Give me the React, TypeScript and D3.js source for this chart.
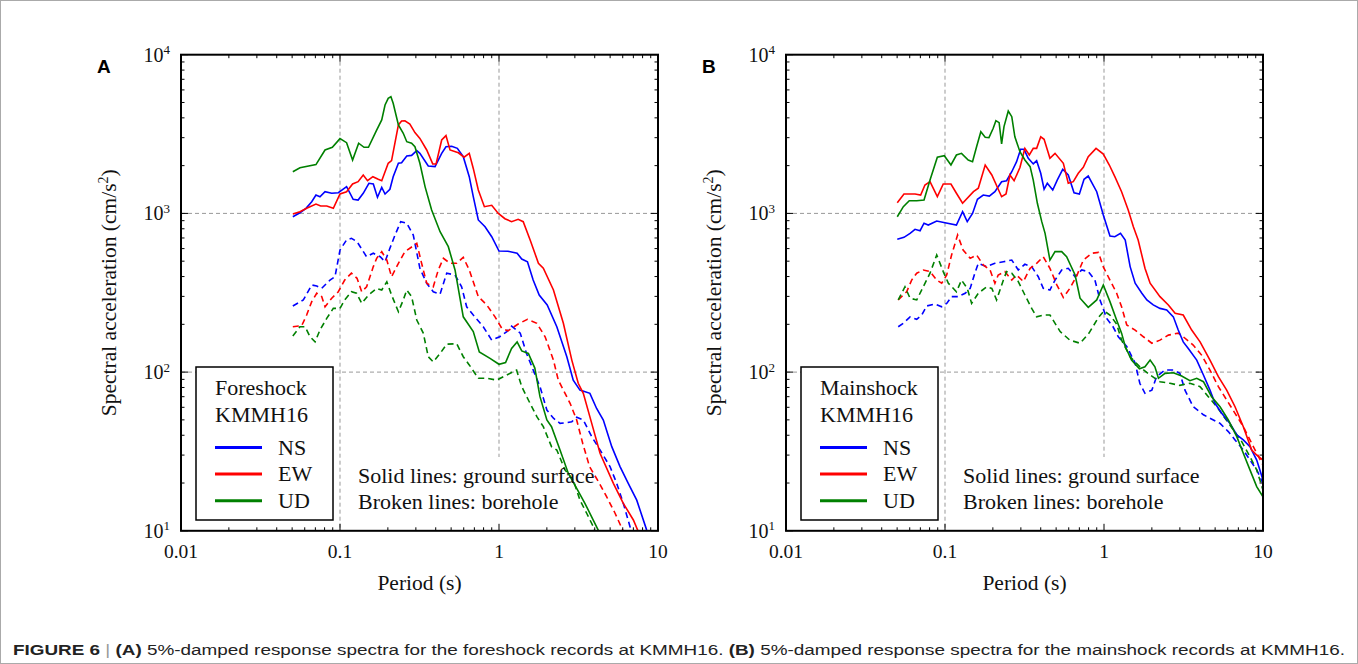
import React from "react";
import * as d3 from "d3";

// ---------- DATA (period s, spectral acceleration cm/s^2) ----------
const xTickLabels = ["0.01", "0.1", "1", "10"];
const xTickValues = [0.01, 0.1, 1, 10];
const yTickExponents = [1, 2, 3, 4];
const componentNames = ["NS", "EW", "UD"];
const componentColors = ["#0000ff", "#ff0000", "#008000"];

const foreshockNS_surface: [number, number][] = [[0.0505,953],[0.056,1010],[0.0611,1077],[0.0664,1185],[0.0706,1306],[0.0748,1274],[0.0805,1370],[0.0887,1339],[0.0976,1350],[0.11,1473],[0.121,1227],[0.13,1214],[0.14,1339],[0.152,1548],[0.162,1532],[0.172,1263],[0.183,1460],[0.192,1325],[0.206,1419],[0.216,1703],[0.233,2070],[0.244,2087],[0.263,2300],[0.282,2320],[0.304,2484],[0.318,2390],[0.359,1990],[0.396,1970],[0.436,2390],[0.464,2630],[0.504,2650],[0.547,2570],[0.596,2277],[0.65,1703],[0.689,1274],[0.741,909],[0.817,824],[0.9,713],[1.0,579],[1.14,577],[1.3,561],[1.39,516],[1.51,496],[1.64,380],[1.79,306],[2.01,265],[2.31,193],[2.67,125],[2.93,89],[3.23,77],[3.73,73.5],[4.11,59],[4.53,49.9],[5.12,33.9],[5.77,25.4],[6.5,19.9],[7.35,15.6],[8.49,10.1],[9.1,8.7]];
const foreshockEW_surface: [number, number][] = [[0.0505,991],[0.056,1025],[0.0617,1077],[0.0706,1146],[0.0756,1113],[0.0825,1113],[0.0908,1077],[0.1,1325],[0.11,1370],[0.12,1532],[0.13,1584],[0.14,1746],[0.149,1607],[0.161,1703],[0.174,1640],[0.183,1607],[0.201,2070],[0.211,2150],[0.233,3610],[0.244,3820],[0.256,3830],[0.275,3660],[0.296,3230],[0.318,2970],[0.351,2510],[0.383,2050],[0.402,2050],[0.436,2900],[0.464,3090],[0.492,2510],[0.555,2410],[0.603,2260],[0.65,2390],[0.689,1920],[0.741,1404],[0.809,1102],[0.9,1125],[0.99,1000],[1.09,926],[1.2,887],[1.32,918],[1.42,887],[1.57,680],[1.77,485],[1.9,451],[2.2,329],[2.54,203],[2.87,119],[3.15,85],[3.39,73.5],[3.83,47.5],[4.32,30.8],[5.24,19.9],[6.05,14.9],[7.0,11.7],[7.52,9.87],[7.8,9.0]];
const foreshockUD_surface: [number, number][] = [[0.0505,1830],[0.056,1940],[0.0706,2030],[0.0805,2510],[0.0895,2610],[0.1,2960],[0.11,2790],[0.12,2170],[0.131,2770],[0.1416,2610],[0.151,2610],[0.17,3350],[0.183,3880],[0.192,4820],[0.201,5310],[0.209,5440],[0.216,4940],[0.233,3610],[0.25,3200],[0.263,2830],[0.282,2770],[0.296,2630],[0.318,2070],[0.343,1470],[0.377,1050],[0.426,767],[0.48,617],[0.529,440],[0.596,223],[0.689,180],[0.752,134],[0.878,122],[1.0,112],[1.1,115],[1.2,141],[1.3,155],[1.39,136],[1.53,131],[1.68,106],[1.81,70],[2.0,49.9],[2.14,45.3],[2.42,32.3],[2.73,23.0],[3.08,18.5],[3.47,14.9],[4.11,10.6],[4.4,9.2]];
const foreshockNS_borehole: [number, number][] = [[0.0505,261],[0.0588,285],[0.0664,354],[0.0714,349],[0.0767,337],[0.0865,380],[0.093,399],[0.1,588],[0.11,680],[0.118,697],[0.128,663],[0.147,533],[0.162,561],[0.179,533],[0.192,496],[0.206,603],[0.222,731],[0.241,887],[0.263,867],[0.289,731],[0.318,451],[0.351,363],[0.386,321],[0.426,310],[0.469,420],[0.529,409],[0.582,345],[0.626,258],[0.689,229],[0.796,193],[0.9,159],[1.01,167],[1.12,180],[1.2,195],[1.36,176],[1.49,131],[1.61,108],[1.81,81],[2.0,57.7],[2.2,51.2],[2.42,47.5],[2.67,48],[2.87,48.7],[3.08,51.9],[3.39,49.9],[3.83,39.2],[4.32,32.3],[4.99,25.4],[5.5,19.9],[6.05,14.9],[6.67,10.6],[6.85,9.4]];
const foreshockEW_borehole: [number, number][] = [[0.0505,193],[0.0574,196],[0.0617,229],[0.0664,278],[0.0714,314],[0.0767,299],[0.0805,258],[0.0887,292],[0.0976,321],[0.107,380],[0.118,420],[0.128,390],[0.137,321],[0.147,345],[0.162,462],[0.17,521],[0.183,574],[0.197,508],[0.211,399],[0.233,485],[0.256,574],[0.275,603],[0.304,648],[0.326,485],[0.351,363],[0.386,345],[0.415,440],[0.447,521],[0.492,485],[0.542,485],[0.596,529],[0.65,440],[0.741,299],[0.837,265],[0.944,223],[1.04,189],[1.14,182],[1.32,201],[1.51,215],[1.73,203],[1.95,167],[2.2,119],[2.36,89],[2.54,77],[2.8,63.6],[3.08,49.9],[3.36,35.6],[3.71,25.4],[4.22,20.4],[4.75,16.4],[5.37,12.9],[6.0,10.1],[6.2,9.3]];
const foreshockUD_borehole: [number, number][] = [[0.0505,169],[0.056,193],[0.0603,193],[0.0648,167],[0.0697,155],[0.0748,184],[0.0825,218],[0.0908,252],[0.1,252],[0.107,285],[0.118,321],[0.127,314],[0.137,271],[0.151,306],[0.17,337],[0.183,329],[0.197,371],[0.211,306],[0.233,240],[0.25,285],[0.263,329],[0.282,299],[0.304,213],[0.334,176],[0.359,125],[0.386,116],[0.426,131],[0.469,150],[0.542,151],[0.596,125],[0.65,111],[0.741,91.4],[0.837,91.4],[0.968,89],[1.12,95.9],[1.29,103],[1.39,81],[1.53,66.7],[1.73,52.4],[1.9,45.3],[2.14,33.9],[2.31,32.3],[2.6,24.2],[2.93,20.9],[3.23,15.6],[3.56,12.9],[3.92,10.6],[4.1,9.3]];

const mainshockNS_surface: [number, number][] = [[0.0501,687],[0.0552,707],[0.0603,749],[0.0648,794],[0.0697,778],[0.0738,867],[0.0785,845],[0.0887,896],[0.1,874],[0.118,845],[0.129,1025],[0.138,887],[0.149,1000],[0.16,1227],[0.174,1306],[0.19,1286],[0.206,1370],[0.227,1584],[0.244,1607],[0.263,1830],[0.282,2118],[0.299,2535],[0.314,2535],[0.334,2223],[0.359,2050],[0.377,2150],[0.4,1790],[0.42,1419],[0.44,1548],[0.476,1404],[0.508,1622],[0.55,1897],[0.596,1746],[0.648,1350],[0.7,1325],[0.749,1640],[0.796,1720],[0.9,1370],[0.99,977],[1.09,721],[1.17,713],[1.27,749],[1.36,680],[1.46,462],[1.57,363],[1.73,314],[1.86,285],[2.04,265],[2.25,252],[2.48,246],[2.73,223],[2.93,184],[3.15,155],[3.39,141],[3.83,119],[4.22,95.9],[4.64,77],[4.99,63.6],[5.5,55],[6.2,47.5],[6.84,40.2],[7.52,37.4],[8.28,33.9],[9.13,27.9],[10,20.9]];
const mainshockEW_surface: [number, number][] = [[0.0501,1168],[0.0552,1325],[0.0648,1325],[0.0703,1306],[0.0748,1510],[0.0805,1584],[0.0895,1274],[0.0975,1532],[0.109,1532],[0.118,1339],[0.129,1158],[0.151,1370],[0.162,1440],[0.179,2018],[0.197,1746],[0.227,1274],[0.242,1325],[0.256,1746],[0.272,1607],[0.296,1946],[0.318,2570],[0.339,2333],[0.359,2570],[0.377,2570],[0.4,3040],[0.42,2930],[0.457,2223],[0.492,2390],[0.555,2070],[0.596,1548],[0.641,1584],[0.689,1790],[0.741,1952],[0.796,2277],[0.891,2570],[0.99,2367],[1.08,2018],[1.17,1703],[1.29,1370],[1.42,1050],[1.53,824],[1.64,680],[1.81,451],[1.95,363],[2.25,299],[2.54,265],[2.8,235],[3.15,229],[3.56,184],[4.02,155],[4.64,119],[5.24,93.5],[5.91,77],[6.67,60.5],[7.52,45.3],[8.49,32.3],[9.13,30.0],[10,27.9]];
const mainshockUD_surface: [number, number][] = [[0.0501,953],[0.0547,1102],[0.0596,1202],[0.0664,1202],[0.0738,1214],[0.0805,1622],[0.0895,2260],[0.099,2310],[0.109,2018],[0.118,2333],[0.127,2390],[0.14,2170],[0.149,2118],[0.158,2630],[0.168,3270],[0.179,3020],[0.189,3000],[0.201,3440],[0.209,3840],[0.219,3730],[0.227,2740],[0.235,3520],[0.25,4420],[0.263,4070],[0.275,3040],[0.296,2450],[0.318,2170],[0.343,1970],[0.359,1622],[0.381,1158],[0.406,887],[0.426,749],[0.457,508],[0.492,574],[0.542,574],[0.582,533],[0.658,409],[0.707,292],[0.796,256],[0.9,285],[0.99,354],[1.09,278],[1.2,213],[1.29,176],[1.36,145],[1.49,119],[1.67,105],[1.81,108],[1.95,119],[2.09,108],[2.2,91.4],[2.42,98.2],[2.73,99],[3.08,94.4],[3.47,88.3],[3.83,91.4],[4.22,87],[4.75,70],[5.37,60.5],[6.05,49.9],[6.84,39.2],[7.52,30.8],[8.28,24.2],[9.13,19.0],[10,16.4]];
const mainshockNS_borehole: [number, number][] = [[0.0508,193],[0.0547,203],[0.0603,223],[0.0664,215],[0.0714,229],[0.0767,261],[0.0865,269],[0.0953,258],[0.1025,271],[0.11,299],[0.121,299],[0.134,314],[0.144,337],[0.154,420],[0.162,485],[0.183,462],[0.206,485],[0.233,496],[0.263,508],[0.289,440],[0.318,478],[0.351,462],[0.386,399],[0.415,337],[0.457,329],[0.492,380],[0.542,440],[0.596,451],[0.658,399],[0.724,440],[0.796,430],[0.877,380],[0.944,285],[1.04,218],[1.14,193],[1.23,167],[1.39,145],[1.57,114],[1.68,85],[1.81,73.5],[2.0,77],[2.14,93.5],[2.42,103],[2.73,103],[3.0,98.2],[3.23,77],[3.64,60.5],[4.22,53.8],[4.64,51.2],[5.37,47.5],[6.05,42.2],[6.67,37.4],[7.52,32.3],[8.28,27.9],[9.13,24.2],[10,19.9]];
const mainshockEW_borehole: [number, number][] = [[0.0508,285],[0.0574,321],[0.0617,380],[0.0664,420],[0.073,440],[0.0805,430],[0.0887,380],[0.0953,363],[0.1025,409],[0.11,547],[0.12,731],[0.13,588],[0.144,521],[0.158,547],[0.174,474],[0.192,440],[0.206,363],[0.216,409],[0.238,430],[0.263,380],[0.282,409],[0.311,372],[0.343,451],[0.377,485],[0.415,533],[0.457,451],[0.504,356],[0.555,295],[0.61,337],[0.673,403],[0.741,508],[0.837,561],[0.922,568],[0.99,460],[1.09,380],[1.2,315],[1.29,258],[1.39,198],[1.57,184],[1.77,167],[2.0,152],[2.25,159],[2.54,171],[2.93,176],[3.15,167],[3.64,148],[4.11,128],[4.64,103],[5.24,81],[5.91,66.7],[6.67,55],[7.52,45.3],[8.28,37.4],[9.13,30.8],[10,26]];
const mainshockUD_borehole: [number, number][] = [[0.0508,285],[0.056,345],[0.0603,292],[0.0664,285],[0.073,345],[0.0805,420],[0.0887,547],[0.0975,430],[0.105,363],[0.118,321],[0.127,380],[0.138,337],[0.147,271],[0.162,314],[0.183,345],[0.197,337],[0.211,285],[0.233,380],[0.244,430],[0.263,420],[0.289,372],[0.318,306],[0.351,252],[0.377,223],[0.415,229],[0.457,229],[0.53,180],[0.61,159],[0.707,152],[0.805,176],[0.922,221],[1.0,243],[1.09,229],[1.2,201],[1.29,159],[1.46,125],[1.68,108],[1.95,95.9],[2.25,87],[2.6,85],[3.0,82.5],[3.47,85],[4.02,81],[4.53,70],[5.12,60.5],[5.77,51.2],[6.5,43.3],[7.35,36.5],[8.28,29.3],[9.13,24.2],[10,18.1]];

const panelLetters = ["A", "B"];
const panelTitles = ["Foreshock", "Mainshock"];
const stationName = "KMMH16";
const noteLines = ["Solid lines: ground surface", "Broken lines: borehole"];
const xAxisTitle = "Period (s)";

// ---------- LAYOUT ----------
const W = 1358, H = 664;
const TOP = 54.7, BOTTOM = 530.8;
const PANEL_LEFT = [181, 786];
const PANEL_WIDTH = 477;
const SERIF = "'Liberation Serif', 'Times New Roman', serif";
const SANS = "'Liberation Sans', Arial, sans-serif";

type Series = [number, number][];

function Panel({ idx, surface, borehole }: { idx: number; surface: Series[]; borehole: Series[] }) {
  const left = PANEL_LEFT[idx];
  const right = left + PANEL_WIDTH;
  const x = d3.scaleLog().domain([0.01, 10]).range([left, right]);
  const y = d3.scaleLog().domain([10, 10000]).range([BOTTOM, TOP]);
  const line = d3.line<[number, number]>().x(d => x(d[0])).y(d => y(d[1]));
  const clipId = `clip-${idx}`;

  const minorX: number[] = [];
  for (let e = -2; e < 1; e++) for (let k = 2; k <= 9; k++) minorX.push(k * Math.pow(10, e));
  const minorY: number[] = [];
  for (let e = 1; e < 4; e++) for (let k = 2; k <= 9; k++) minorY.push(k * Math.pow(10, e));

  const legX = left + 15, legY = 367, legW = 137, legH = 153;

  return (
    <g>
      <defs>
        <clipPath id={clipId}>
          <rect x={left} y={TOP} width={right - left} height={BOTTOM - TOP} />
        </clipPath>
      </defs>
      {/* grid */}
      {[0.1, 1].map(v => (
        <line key={"gx" + v} x1={x(v)} x2={x(v)} y1={TOP} y2={BOTTOM} stroke="#999" strokeWidth={1} strokeDasharray="4,3" />
      ))}
      {[100, 1000].map(v => (
        <line key={"gy" + v} x1={left} x2={right} y1={y(v)} y2={y(v)} stroke="#999" strokeWidth={1} strokeDasharray="4,3" />
      ))}
      {/* annotation background */}
      <rect x={left + 171} y={457} width={250} height={BOTTOM - 457 - 1} fill="#fff" />
      {/* curves */}
      <g clipPath={`url(#${clipId})`}>
        {borehole.map((s, i) => (
          <path key={"b" + i} d={line(s) || ""} fill="none" stroke={componentColors[i]} strokeWidth={1.6} strokeDasharray="6,4" />
        ))}
        {surface.map((s, i) => (
          <path key={"s" + i} d={line(s) || ""} fill="none" stroke={componentColors[i]} strokeWidth={1.6} />
        ))}
      </g>
      {/* note */}
      {noteLines.map((t, i) => (
        <text key={"n" + i} x={left + 177} y={483 + i * 26} fontFamily={SERIF} fontSize={22} fill="#111">{t}</text>
      ))}
      {/* legend */}
      <rect x={legX} y={legY} width={legW} height={legH} fill="#fff" stroke="#000" strokeWidth={1.5} />
      <text x={legX + 19} y={395} fontFamily={SERIF} fontSize={22} fill="#111">{panelTitles[idx]}</text>
      <text x={legX + 19} y={421.5} fontFamily={SERIF} fontSize={22} fill="#111">{stationName}</text>
      {componentNames.map((n, i) => (
        <g key={n}>
          <line x1={legX + 19} x2={legX + 66} y1={447.5 + i * 26.6} y2={447.5 + i * 26.6} stroke={componentColors[i]} strokeWidth={3} />
          <text x={legX + 82} y={454.5 + i * 26.6} fontFamily={SERIF} fontSize={22} fill="#111">{n}</text>
        </g>
      ))}
      {/* ticks */}
      {minorX.map(v => (
        <g key={"mx" + v}>
          <line x1={x(v)} x2={x(v)} y1={BOTTOM} y2={BOTTOM - 3.5} stroke="#000" strokeWidth={1} />
          <line x1={x(v)} x2={x(v)} y1={TOP} y2={TOP + 3.5} stroke="#000" strokeWidth={1} />
        </g>
      ))}
      {xTickValues.map(v => (
        <g key={"Mx" + v}>
          <line x1={x(v)} x2={x(v)} y1={BOTTOM} y2={BOTTOM - 7} stroke="#000" strokeWidth={1} />
          <line x1={x(v)} x2={x(v)} y1={TOP} y2={TOP + 7} stroke="#000" strokeWidth={1} />
        </g>
      ))}
      {minorY.map(v => (
        <g key={"my" + v}>
          <line x1={left} x2={left + 3.5} y1={y(v)} y2={y(v)} stroke="#000" strokeWidth={1} />
          <line x1={right} x2={right - 3.5} y1={y(v)} y2={y(v)} stroke="#000" strokeWidth={1} />
        </g>
      ))}
      {yTickExponents.map(e => (
        <g key={"My" + e}>
          <line x1={left} x2={left + 7} y1={y(Math.pow(10, e))} y2={y(Math.pow(10, e))} stroke="#000" strokeWidth={1} />
          <line x1={right} x2={right - 7} y1={y(Math.pow(10, e))} y2={y(Math.pow(10, e))} stroke="#000" strokeWidth={1} />
        </g>
      ))}
      {/* frame */}
      <rect x={left} y={TOP} width={right - left} height={BOTTOM - TOP} fill="none" stroke="#000" strokeWidth={2} />
      {/* tick labels */}
      {xTickValues.map((v, i) => (
        <text key={"xl" + v} x={x(v)} y={558} textAnchor="middle" fontFamily={SERIF} fontSize={19.5} fill="#111">{xTickLabels[i]}</text>
      ))}
      {yTickExponents.map(e => (
        <text key={"yl" + e} x={left - 11} y={y(Math.pow(10, e)) + 7} textAnchor="end" fontFamily={SERIF} fontSize={20} fill="#111">
          <tspan>10</tspan>
          <tspan dy={-7.5} fontSize={13}>{e}</tspan>
        </text>
      ))}
      {/* axis titles */}
      <text x={(left + right) / 2} y={590} textAnchor="middle" fontFamily={SERIF} fontSize={21.5} fill="#111">{xAxisTitle}</text>
      <text transform={`translate(${left - 65},${(TOP + BOTTOM) / 2}) rotate(-90)`} textAnchor="middle" fontFamily={SERIF} fontSize={21.5} fill="#111">
        <tspan>Spectral acceleration (cm/s</tspan>
        <tspan dy={-8} fontSize={14}>2</tspan>
        <tspan dy={8}>)</tspan>
      </text>
      {/* panel letter */}
      <text x={left - 84} y={73} fontFamily={SANS} fontWeight="bold" fontSize={19} fill="#000">{panelLetters[idx]}</text>
    </g>
  );
}

export default function App() {
  return (
    <svg width={W} height={H} style={{ position: "absolute", left: 0, top: 0, background: "#fff" }}>
      <rect x={0} y={0} width={W} height={H} fill="#fff" />
      <rect x={0.5} y={0.5} width={W - 1} height={H - 1} fill="none" stroke="#aaa" strokeWidth={1} />
      <Panel idx={0} surface={[foreshockNS_surface, foreshockEW_surface, foreshockUD_surface]} borehole={[foreshockNS_borehole, foreshockEW_borehole, foreshockUD_borehole]} />
      <Panel idx={1} surface={[mainshockNS_surface, mainshockEW_surface, mainshockUD_surface]} borehole={[mainshockNS_borehole, mainshockEW_borehole, mainshockUD_borehole]} />
      <text x={13} y={655} fontFamily={SANS} fontSize={15.5} fill="#222" textLength={1332} lengthAdjust="spacingAndGlyphs">
        <tspan fontWeight="bold">FIGURE 6</tspan>
        <tspan fill="#999"> | </tspan>
        <tspan fontWeight="bold">(A)</tspan>
        <tspan> 5%-damped response spectra for the foreshock records at KMMH16. </tspan>
        <tspan fontWeight="bold">(B)</tspan>
        <tspan> 5%-damped response spectra for the mainshock records at KMMH16.</tspan>
      </text>
    </svg>
  );
}
